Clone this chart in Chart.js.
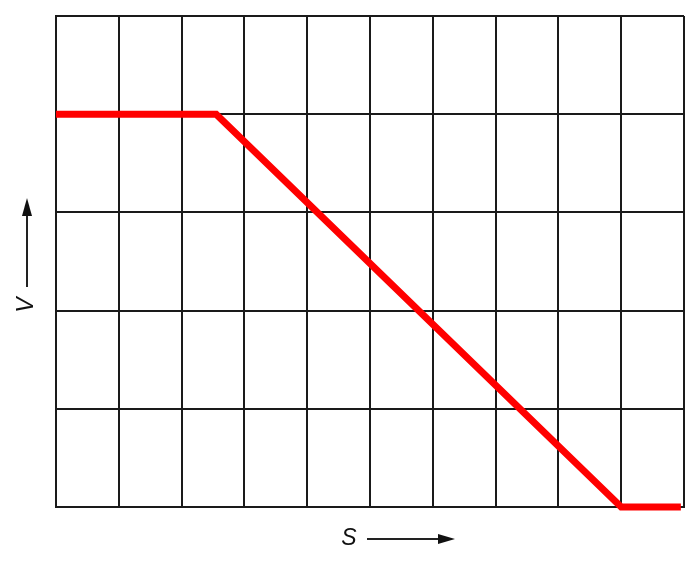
<!DOCTYPE html>
<html>
<head>
<meta charset="utf-8">
<script src="https://cdn.jsdelivr.net/npm/chart.js@4"></script>
<style>
  html, body { margin: 0; padding: 0; background: #fff; }
  #wrap { width: 700px; height: 561px; }
</style>
</head>
<body>
<div id="wrap"><canvas id="c" width="700" height="561"></canvas></div>
<script>
// Data (S along x: 0..10 grid columns, V along y: 0..5 grid rows)
const sValues = [0, 2.55, 9, 9.95];
const vValues = [4, 4, 0, 0];
const xAxisLabel = 'S';
const yAxisLabel = 'V';

const points = sValues.map((s, i) => ({ x: s, y: vValues[i] }));

const labelPlugin = {
  id: 'axisLabels',
  afterDraw(chart) {
    const ctx = chart.ctx;
    const area = chart.chartArea;
    ctx.save();
    ctx.fillStyle = '#111';
    ctx.strokeStyle = '#222';
    ctx.lineWidth = 2;
    ctx.font = 'italic 23px "Liberation Sans", Arial, sans-serif';
    ctx.textAlign = 'center';
    ctx.textBaseline = 'middle';
    // x label + arrow
    const xl = 349, yl = 539;
    ctx.fillText(xAxisLabel, xl, yl);
    ctx.beginPath(); ctx.moveTo(367, yl); ctx.lineTo(442, yl); ctx.stroke();
    ctx.beginPath(); ctx.moveTo(455, yl); ctx.lineTo(438, yl - 5); ctx.lineTo(438, yl + 5); ctx.closePath(); ctx.fill();
    // y label + arrow
    const xv = 27, yv = 305;
    ctx.save();
    ctx.translate(xv, yv); ctx.rotate(-Math.PI / 2);
    ctx.fillText(yAxisLabel, 0, 0);
    ctx.restore();
    ctx.beginPath(); ctx.moveTo(xv, 287); ctx.lineTo(xv, 212); ctx.stroke();
    ctx.beginPath(); ctx.moveTo(xv, 198); ctx.lineTo(xv - 5, 216); ctx.lineTo(xv + 5, 216); ctx.closePath(); ctx.fill();
    ctx.restore();
  }
};

new Chart(document.getElementById('c'), {
  type: 'scatter',
  data: {
    datasets: [{
      data: points,
      showLine: true,
      borderColor: '#ff0000',
      backgroundColor: '#ff0000',
      borderWidth: 7,
      pointRadius: 0,
      borderJoinStyle: 'miter',
      borderCapStyle: 'butt',
      clip: false,
      tension: 0
    }]
  },
  options: {
    responsive: false,
    animation: false,
    layout: { padding: { left: 56, right: 16, top: 16, bottom: 54 } },
    plugins: { legend: { display: false }, tooltip: { enabled: false } },
    scales: {
      x: {
        type: 'linear', min: 0, max: 10,
        ticks: { display: false, stepSize: 1 },
        grid: { color: '#1a1a1a', lineWidth: 2, drawTicks: false },
        border: { display: true, color: '#1a1a1a', width: 2 }
      },
      y: {
        type: 'linear', min: 0, max: 5,
        ticks: { display: false, stepSize: 1 },
        grid: { color: '#1a1a1a', lineWidth: 2, drawTicks: false },
        border: { display: true, color: '#1a1a1a', width: 2 }
      }
    }
  },
  plugins: [labelPlugin]
});
</script>
</body>
</html>
